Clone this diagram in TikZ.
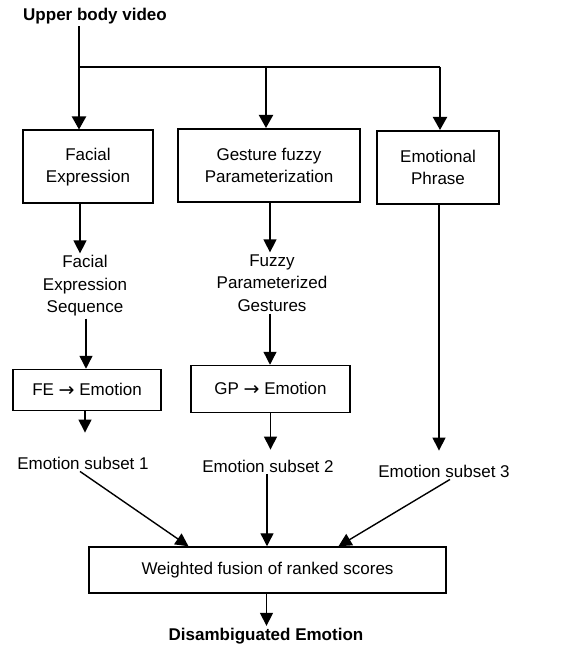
\documentclass[tikz,border=0pt]{standalone}
\usepackage{fontspec}
\setmainfont{Liberation Sans}
\newfontfamily\arrowfont{DejaVu Sans}
\newcommand{\rarr}{{\arrowfont\fontsize{19}{20}\selectfont\raisebox{-0.5pt}{→}}}
\usetikzlibrary{arrows.meta}
\begin{document}
\begin{tikzpicture}[x=1pt,y=-1pt,
  every node/.style={font=\fontsize{17}{22.5}\selectfont},
  boldtxt/.style={font=\fontsize{17}{22.5}\selectfont\bfseries, inner sep=2pt},
  txt/.style={align=center, inner sep=2pt},
  bigbox/.style={draw, line width=2pt, align=center, inner sep=0pt},
  smallbox/.style={draw, line width=1.5pt, align=center, inner sep=0pt},
  thickline/.style={line width=2pt},
  thickarr/.style={line width=2pt, -{Triangle[width=14pt,length=13pt]}},
  arr/.style={line width=1.4pt, -{Triangle[width=13pt,length=13pt]}}]
\useasboundingbox (0,0) rectangle (576,652);

\node[boldtxt] (title) at (95,16) {Upper body video};
\coordinate (j1) at (79,67);
\coordinate (j2) at (266,67);
\coordinate (j3) at (440,67);

\node[bigbox, minimum width=130pt, minimum height=73pt] (b1) at (88,167) {Facial\\Expression};
\node[bigbox, minimum width=182pt, minimum height=73pt] (b2) at (269,165.5) {Gesture fuzzy\\Parameterization};
\node[bigbox, minimum width=122pt, minimum height=73pt] (b3) at (438,167.5) {Emotional\\Phrase};

\draw[thickline] (title.south -| j1) -- (j1) -- (j3);
\draw[thickarr] (j1) -- (b1.north -| j1);
\draw[thickarr] (j2) -- (b2.north -| j2);
\draw[thickarr] (j3) -- (b3.north -| j3);

\node[txt] (fes) at (85,286) {Facial\\Expression\\Sequence};
\node[txt] (fpg) at (272,283) {Fuzzy\\Parameterized\\Gestures};

\node[smallbox, minimum width=148pt, minimum height=41pt] (fe) at (87,390) {FE \rarr{} Emotion};
\node[smallbox, minimum width=159pt, minimum height=47pt] (gp) at (270.5,389) {GP \rarr{} Emotion};

\node[txt] (es1) at (83,463) {Emotion subset 1};
\node[txt] (es2) at (268,466) {Emotion subset 2};
\node[txt] (es3) at (444,471) {Emotion subset 3};

\node[smallbox, minimum width=357pt, minimum height=46pt] (fu) at (267.5,570) {Weighted fusion of ranked scores};
\node[boldtxt] (dis) at (266,636) {Disambiguated Emotion};

\draw[arr] ([xshift=-8pt]b1.south) -- ([xshift=-8pt]b1.south |- fes.north);
\draw[arr] ([xshift=1pt]fes.south) -- ([xshift=1pt]fes.south |- fe.north);
\draw[arr, shorten >=22pt] ([xshift=-2pt]fe.south) -- ([xshift=-2pt]fe.south |- es1.north);
\draw[arr] (b2.south -| fpg.south) ++(-2pt,0) -- ([xshift=-2pt]fpg.north);
\draw[arr] ([xshift=-2pt]fpg.south) -- ([xshift=-2pt]fpg.south |- gp.north);
\draw[arr, shorten >=8pt] (gp.south) -- (gp.south |- es2.north);
\draw[arr, shorten >=12pt] ([xshift=1pt]b3.south) -- ([xshift=1pt]b3.south |- es3.north);
\draw[arr] ([xshift=-3pt]es1.south) -- ([xshift=-79pt]fu.north);
\draw[arr] ([xshift=-1pt]es2.south) -- ([xshift=-1pt]es2.south |- fu.north);
\draw[arr] ([xshift=6pt]es3.south) -- ([xshift=71pt]fu.north);
\draw[arr] ([xshift=-1pt]fu.south) -- ([xshift=-1pt]fu.south |- dis.north);
\end{tikzpicture}
\end{document}
